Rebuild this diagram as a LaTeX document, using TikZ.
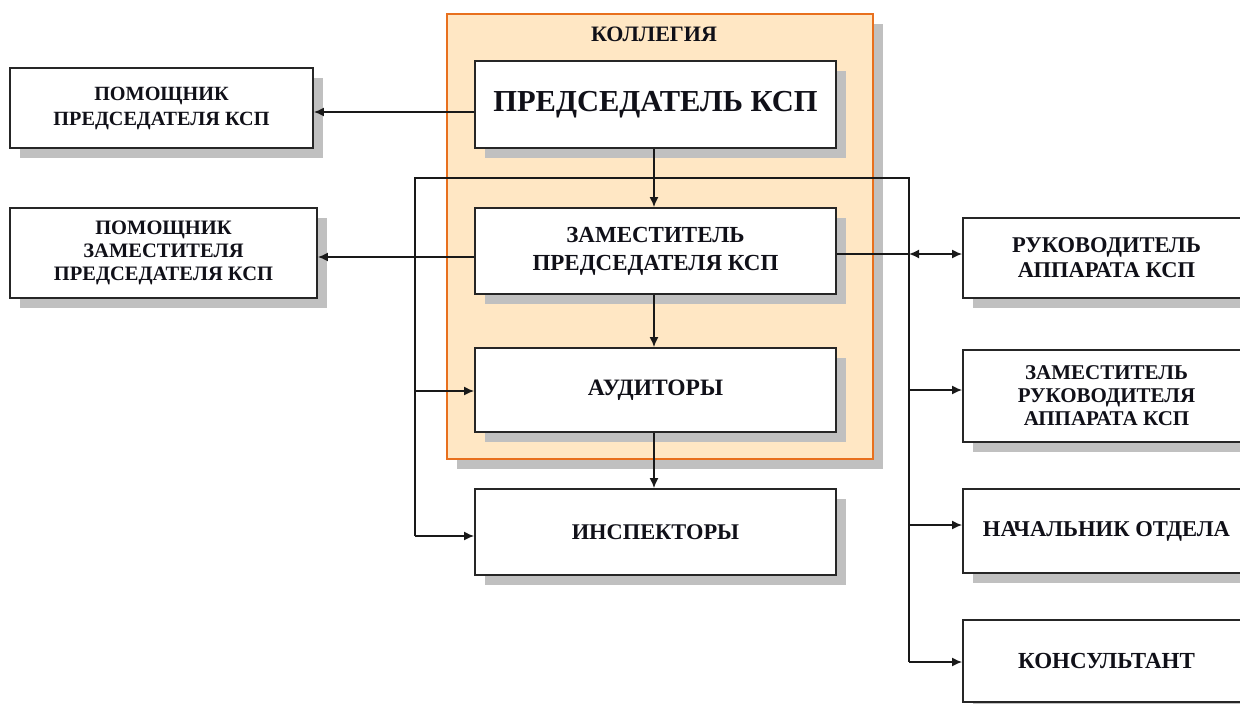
\documentclass[tikz,border=0pt]{standalone}
\usepackage{fontspec}
\setmainfont{Liberation Serif}
\usetikzlibrary{arrows.meta,shadows}
\definecolor{kfill}{HTML}{FFE7C4}
\definecolor{kdraw}{HTML}{E8701E}
\definecolor{shad}{HTML}{C0C0C0}
\definecolor{txt}{HTML}{101018}
\tikzset{
  sh/.style={drop shadow={shadow xshift=10pt,shadow yshift=-10pt,fill=shad,opacity=1}},
  fs/.style 2 args={font=\bfseries\fontsize{#1}{#2}\selectfont},
  box/.style={sh,draw=black!85,line width=1.8pt,fill=white,inner sep=0pt,align=center,
    text=txt,fs={22}{25}},
  conn/.style={line width=1.6pt,draw=black!90},
  tip/.tip={Latex[length=10pt,width=9pt]},
  arr/.style={conn,-tip},
  darr/.style={conn,tip-tip}
}
\begin{document}
\begin{tikzpicture}[x=1pt,y=-1pt]
\useasboundingbox (0,0) rectangle (1240,704);
% kollegia
\node[sh,draw=kdraw,line width=2pt,fill=kfill,minimum width=426pt,minimum height=445pt,inner sep=0pt] (kol) at (660,236.5) {};
\node[text=txt,fs={22}{25}] (koltitle) at (654,34) {КОЛЛЕГИЯ};
% bus coordinates
\coordinate (bltop) at (415,178);
\coordinate (brtop) at (909,178);
\coordinate (blaud) at (415,391);
\coordinate (blinsp) at (415,536);
\coordinate (brruk) at (909,254);
\coordinate (brzr) at (909,390);
\coordinate (brnach) at (909,525);
\coordinate (brkons) at (909,662);
\coordinate (ppy) at (0,112);
\coordinate (pzy) at (0,257);
\coordinate (vx) at (654,0);
\draw[conn] (blinsp) -- (bltop) -- (brtop) -- (brkons);
% boxes
\node[box,minimum width=361pt,minimum height=87pt,fs={30.5}{34}] (pred) at (655.5,104.5) {ПРЕДСЕДАТЕЛЬ КСП};
\node[box,minimum width=361pt,minimum height=86pt,fs={23}{28}] (zam) at (655.5,251) {ЗАМЕСТИТЕЛЬ\\ПРЕДСЕДАТЕЛЯ КСП};
\node[box,minimum width=361pt,minimum height=84pt,fs={23.5}{27}] (aud) at (655.5,390) {АУДИТОРЫ};
\node[box,minimum width=361pt,minimum height=86pt,fs={22.4}{26}] (insp) at (655.5,532) {ИНСПЕКТОРЫ};
\node[box,minimum width=303pt,minimum height=80pt,fs={20.2}{25}] (pp) at (161.5,108) {ПОМОЩНИК\\ПРЕДСЕДАТЕЛЯ КСП};
\node[box,minimum width=307pt,minimum height=90pt,fs={20.5}{23}] (pz) at (163.5,253) {ПОМОЩНИК\\ЗАМЕСТИТЕЛЯ\\ПРЕДСЕДАТЕЛЯ КСП};
\node[box,minimum width=287pt,minimum height=80pt,fs={22.5}{25}] (ruk) at (1106.5,258) {РУКОВОДИТЕЛЬ\\АППАРАТА КСП};
\node[box,minimum width=287pt,minimum height=92pt,fs={21}{23}] (zr) at (1106.5,396) {ЗАМЕСТИТЕЛЬ\\РУКОВОДИТЕЛЯ\\АППАРАТА КСП};
\node[box,minimum width=287pt,minimum height=84pt,fs={22.6}{26}] (nach) at (1106.5,531) {НАЧАЛЬНИК ОТДЕЛА};
\node[box,minimum width=287pt,minimum height=82pt,fs={23}{26}] (kons) at (1106.5,661) {КОНСУЛЬТАНТ};
% connectors
\draw[arr] (pred.west |- ppy) -- (pp.east |- ppy);
\draw[arr] (zam.west |- pzy) -- (pz.east |- pzy);
\draw[arr] (vx |- pred.south) -- (vx |- zam.north);
\draw[arr] (vx |- zam.south) -- (vx |- aud.north);
\draw[arr] (vx |- aud.south) -- (vx |- insp.north);
\draw[arr] (blaud) -- (blaud -| aud.west);
\draw[arr] (blinsp) -- (blinsp -| insp.west);
\draw[conn] (zam.east |- brruk) -- (brruk);
\draw[darr] (brruk) -- (brruk -| ruk.west);
\draw[arr] (brzr) -- (brzr -| zr.west);
\draw[arr] (brnach) -- (brnach -| nach.west);
\draw[arr] (brkons) -- (brkons -| kons.west);
\end{tikzpicture}
\end{document}
